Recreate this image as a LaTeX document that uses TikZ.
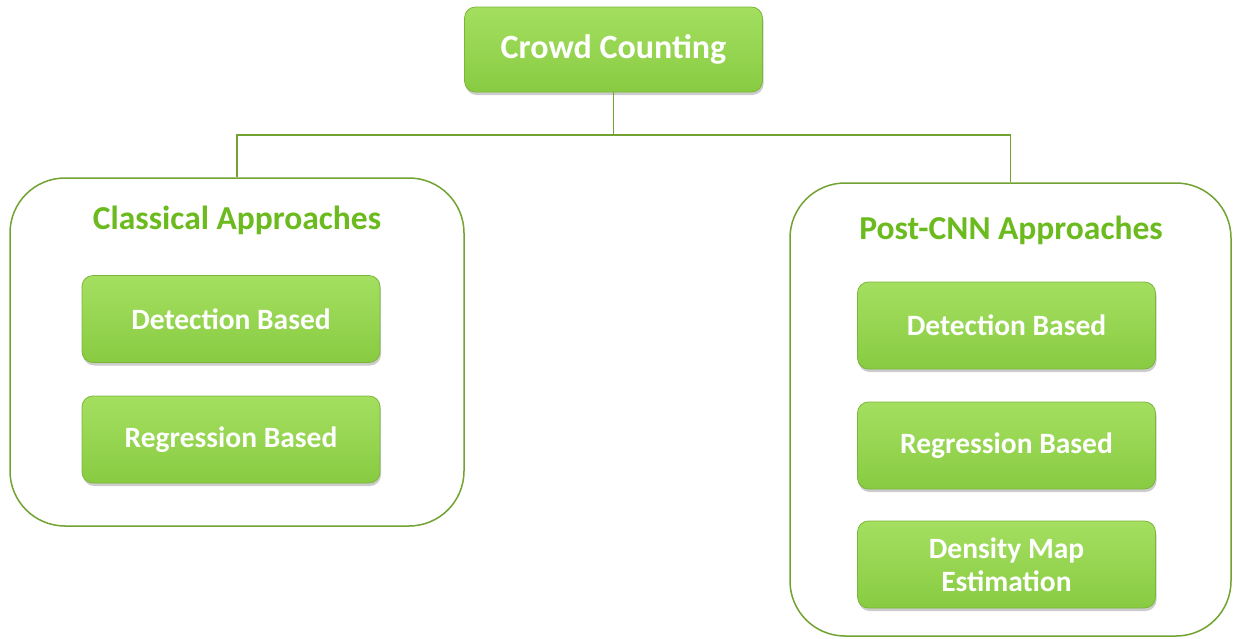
\documentclass[tikz,border=0pt]{standalone}
\usepackage{fontspec}
\setmainfont{Carlito}
\usetikzlibrary{shadows}
\definecolor{gtop}{HTML}{A4DF60}
\definecolor{gbot}{HTML}{88CB42}
\definecolor{gedge}{HTML}{7CB639}
\definecolor{gtitle}{HTML}{6BBA1E}
\definecolor{gline}{HTML}{72A232}
\begin{document}
\begin{tikzpicture}[x=1pt,y=-1pt,
  greenbox/.style={rectangle, rounded corners=11pt, draw=gedge, line width=0.8pt,
    top color=gtop, bottom color=gbot, text=white, align=center,
    inner sep=0pt,
    drop shadow={opacity=0.4, shadow xshift=1pt, shadow yshift=-3pt}},
  subbox/.style={greenbox, minimum width=298pt, minimum height=87pt,
    font=\fontsize{29.5}{33}\selectfont\bfseries},
  container/.style={rectangle, rounded corners=55pt, draw=gline, line width=1.5pt, fill=white, inner sep=0pt},
  grouptitle/.style={text=gtitle, font=\fontsize{33.5}{38}\selectfont\bfseries, inner sep=0pt},
  conn/.style={draw=gline, line width=1.5pt}
]
\useasboundingbox (0,0) rectangle (1233,638);
% containers
\node[container, minimum width=454pt, minimum height=348pt] (left) at (237,352) {};
\node[container, minimum width=441pt, minimum height=453pt] (right) at (1010.5,409.5) {};
% top node
\node[greenbox, minimum width=298pt, minimum height=85pt, font=\fontsize{34}{38}\selectfont\bfseries] (top) at (613.5,49.5) {Crowd Counting};
% connectors
\coordinate (jn) at (613.5,135);
\draw[conn] (top.south) -- (jn);
\draw[conn] (left.north) |- (jn) -| (right.north);
% titles
\node[grouptitle] (ltitle) at (237,220) {Classical Approaches};
\node[grouptitle] (rtitle) at (1011,230) {Post-CNN Approaches};
% left boxes
\node[subbox] (ldet) at (231,319) {Detection Based};
\node[subbox] (lreg) at (231,439.5) {Regression Based};
% right boxes
\node[subbox] (rdet) at (1006.5,325.5) {Detection Based};
\node[subbox] (rreg) at (1006.5,445.5) {Regression Based};
\node[subbox] (rden) at (1006.5,564.5) {Density Map\\Estimation};
\end{tikzpicture}
\end{document}
